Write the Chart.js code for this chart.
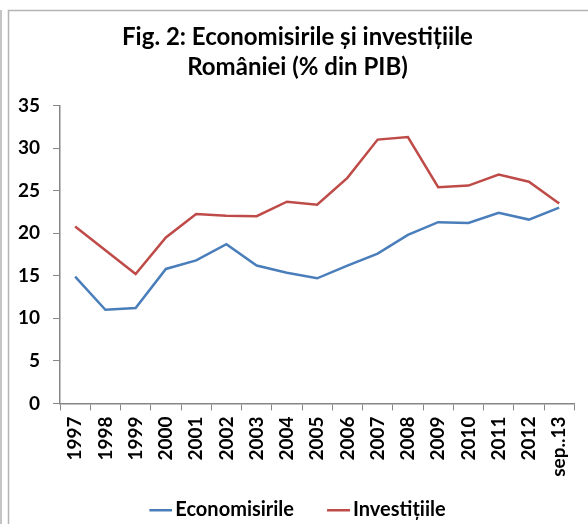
<!DOCTYPE html>
<html>
<head>
<meta charset="utf-8">
<script src="https://cdn.jsdelivr.net/npm/chart.js@4"></script>
<style>
  html, body { margin: 0; padding: 0; background: #fff; }
  #wrap { position: relative; width: 588px; height: 524px; }
</style>
</head>
<body>
<div id="wrap"><canvas id="chart" width="588" height="524"></canvas></div>
<script>
const years = ['1997', '1998', '1999', '2000', '2001', '2002', '2003', '2004', '2005',
    '2006', '2007', '2008', '2009', '2010', '2011', '2012', 'sep..13'];
const economisirile = [14.9, 11.0, 11.2, 15.8, 16.8, 18.7, 16.2, 15.35, 14.7,
    16.2, 17.6, 19.8, 21.3, 21.2, 22.4, 21.6, 23.0];
const investitiile = [20.8, 18.0, 15.2, 19.5, 22.25, 22.05, 22.0, 23.7, 23.35,
    26.5, 31.0, 31.3, 25.4, 25.6, 26.9, 26.05, 23.5];

const axisGray = '#868686';
const blue = '#4a7ebb';
const red = '#be4b48';
const font = 'Lato';

// legend marker: short line sitting right against the label text,
// with blank room on its left so the two items stand apart
function legendLine(color) {
    const c = document.createElement('canvas');
    c.width = 57;
    c.height = 4;
    const g = c.getContext('2d');
    g.fillStyle = color;
    g.fillRect(34, 1, 23, 2.5);
    return c;
}

// frame of the excel chart object
const framePlugin = {
    id: 'frame',
    afterLayout(chart) {
        // the blank room before the first marker would push the row right
        chart.legend.right -= 27;
    },
    beforeDraw(chart) {
        const c = chart.ctx;
        c.save();
        c.strokeStyle = '#c4c4c4';
        c.lineWidth = 2;
        c.beginPath();
        c.moveTo(1, 10); c.lineTo(1, chart.height);
        c.stroke();
        c.strokeStyle = '#b4b4b4';
        c.lineWidth = 1.5;
        c.beginPath();
        c.moveTo(8.5, chart.height); c.lineTo(8.5, 10.5); c.lineTo(chart.width, 10.5);
        c.stroke();
        c.restore();
    }
};

const ctx = document.getElementById('chart').getContext('2d');
const chart = new Chart(ctx, {
    type: 'line',
    data: {
        labels: years,
        datasets: [{
            label: 'Economisirile',
            data: economisirile,
            borderColor: blue,
            backgroundColor: blue,
            borderWidth: 2.5,
            pointRadius: 0,
            pointStyle: legendLine(blue),
            tension: 0
        }, {
            label: 'Investițiile',
            data: investitiile,
            borderColor: red,
            backgroundColor: red,
            borderWidth: 2.5,
            pointRadius: 0,
            pointStyle: legendLine(red),
            tension: 0
        }]
    },
    options: {
        responsive: false,
        animation: false,
        layout: { padding: { left: 8, right: 1, top: 8, bottom: -6 } },
        plugins: {
            title: {
                display: true,
                text: ['Fig. 2: Economisirile și investițiile', 'României (% din PIB)'],
                color: '#000',
                font: { family: font, size: 24, weight: 'bold', lineHeight: 1.22 },
                padding: { top: 15, bottom: 24 }
            },
            legend: {
                position: 'bottom',
                labels: {
                    usePointStyle: true,
                    pointStyleWidth: 43,
                    color: '#000',
                    font: { family: font, size: 20, weight: 'bold' },
                    padding: 6
                }
            },
            tooltip: { enabled: false }
        },
        scales: {
            x: {
                offset: true,
                grid: { offset: true, drawOnChartArea: false, tickLength: 7, color: axisGray },
                border: { color: axisGray, width: 1.5 },
                ticks: {
                    minRotation: 90, maxRotation: 90, autoSkip: false, padding: 6,
                    color: '#000',
                    font: { family: font, size: 19, weight: 'bold' }
                },
                afterFit(scale) { scale.height = 90.6; }
            },
            y: {
                min: 0, max: 35,
                grid: { drawOnChartArea: false, tickLength: 7, color: axisGray },
                border: { color: axisGray, width: 1.5 },
                ticks: {
                    stepSize: 5, padding: 13,
                    color: '#000',
                    font: { family: font, size: 19, weight: 'bold' }
                },
                afterFit(scale) { scale.width = 52; }
            }
        }
    },
    plugins: [framePlugin]
});
</script>
</body>
</html>
